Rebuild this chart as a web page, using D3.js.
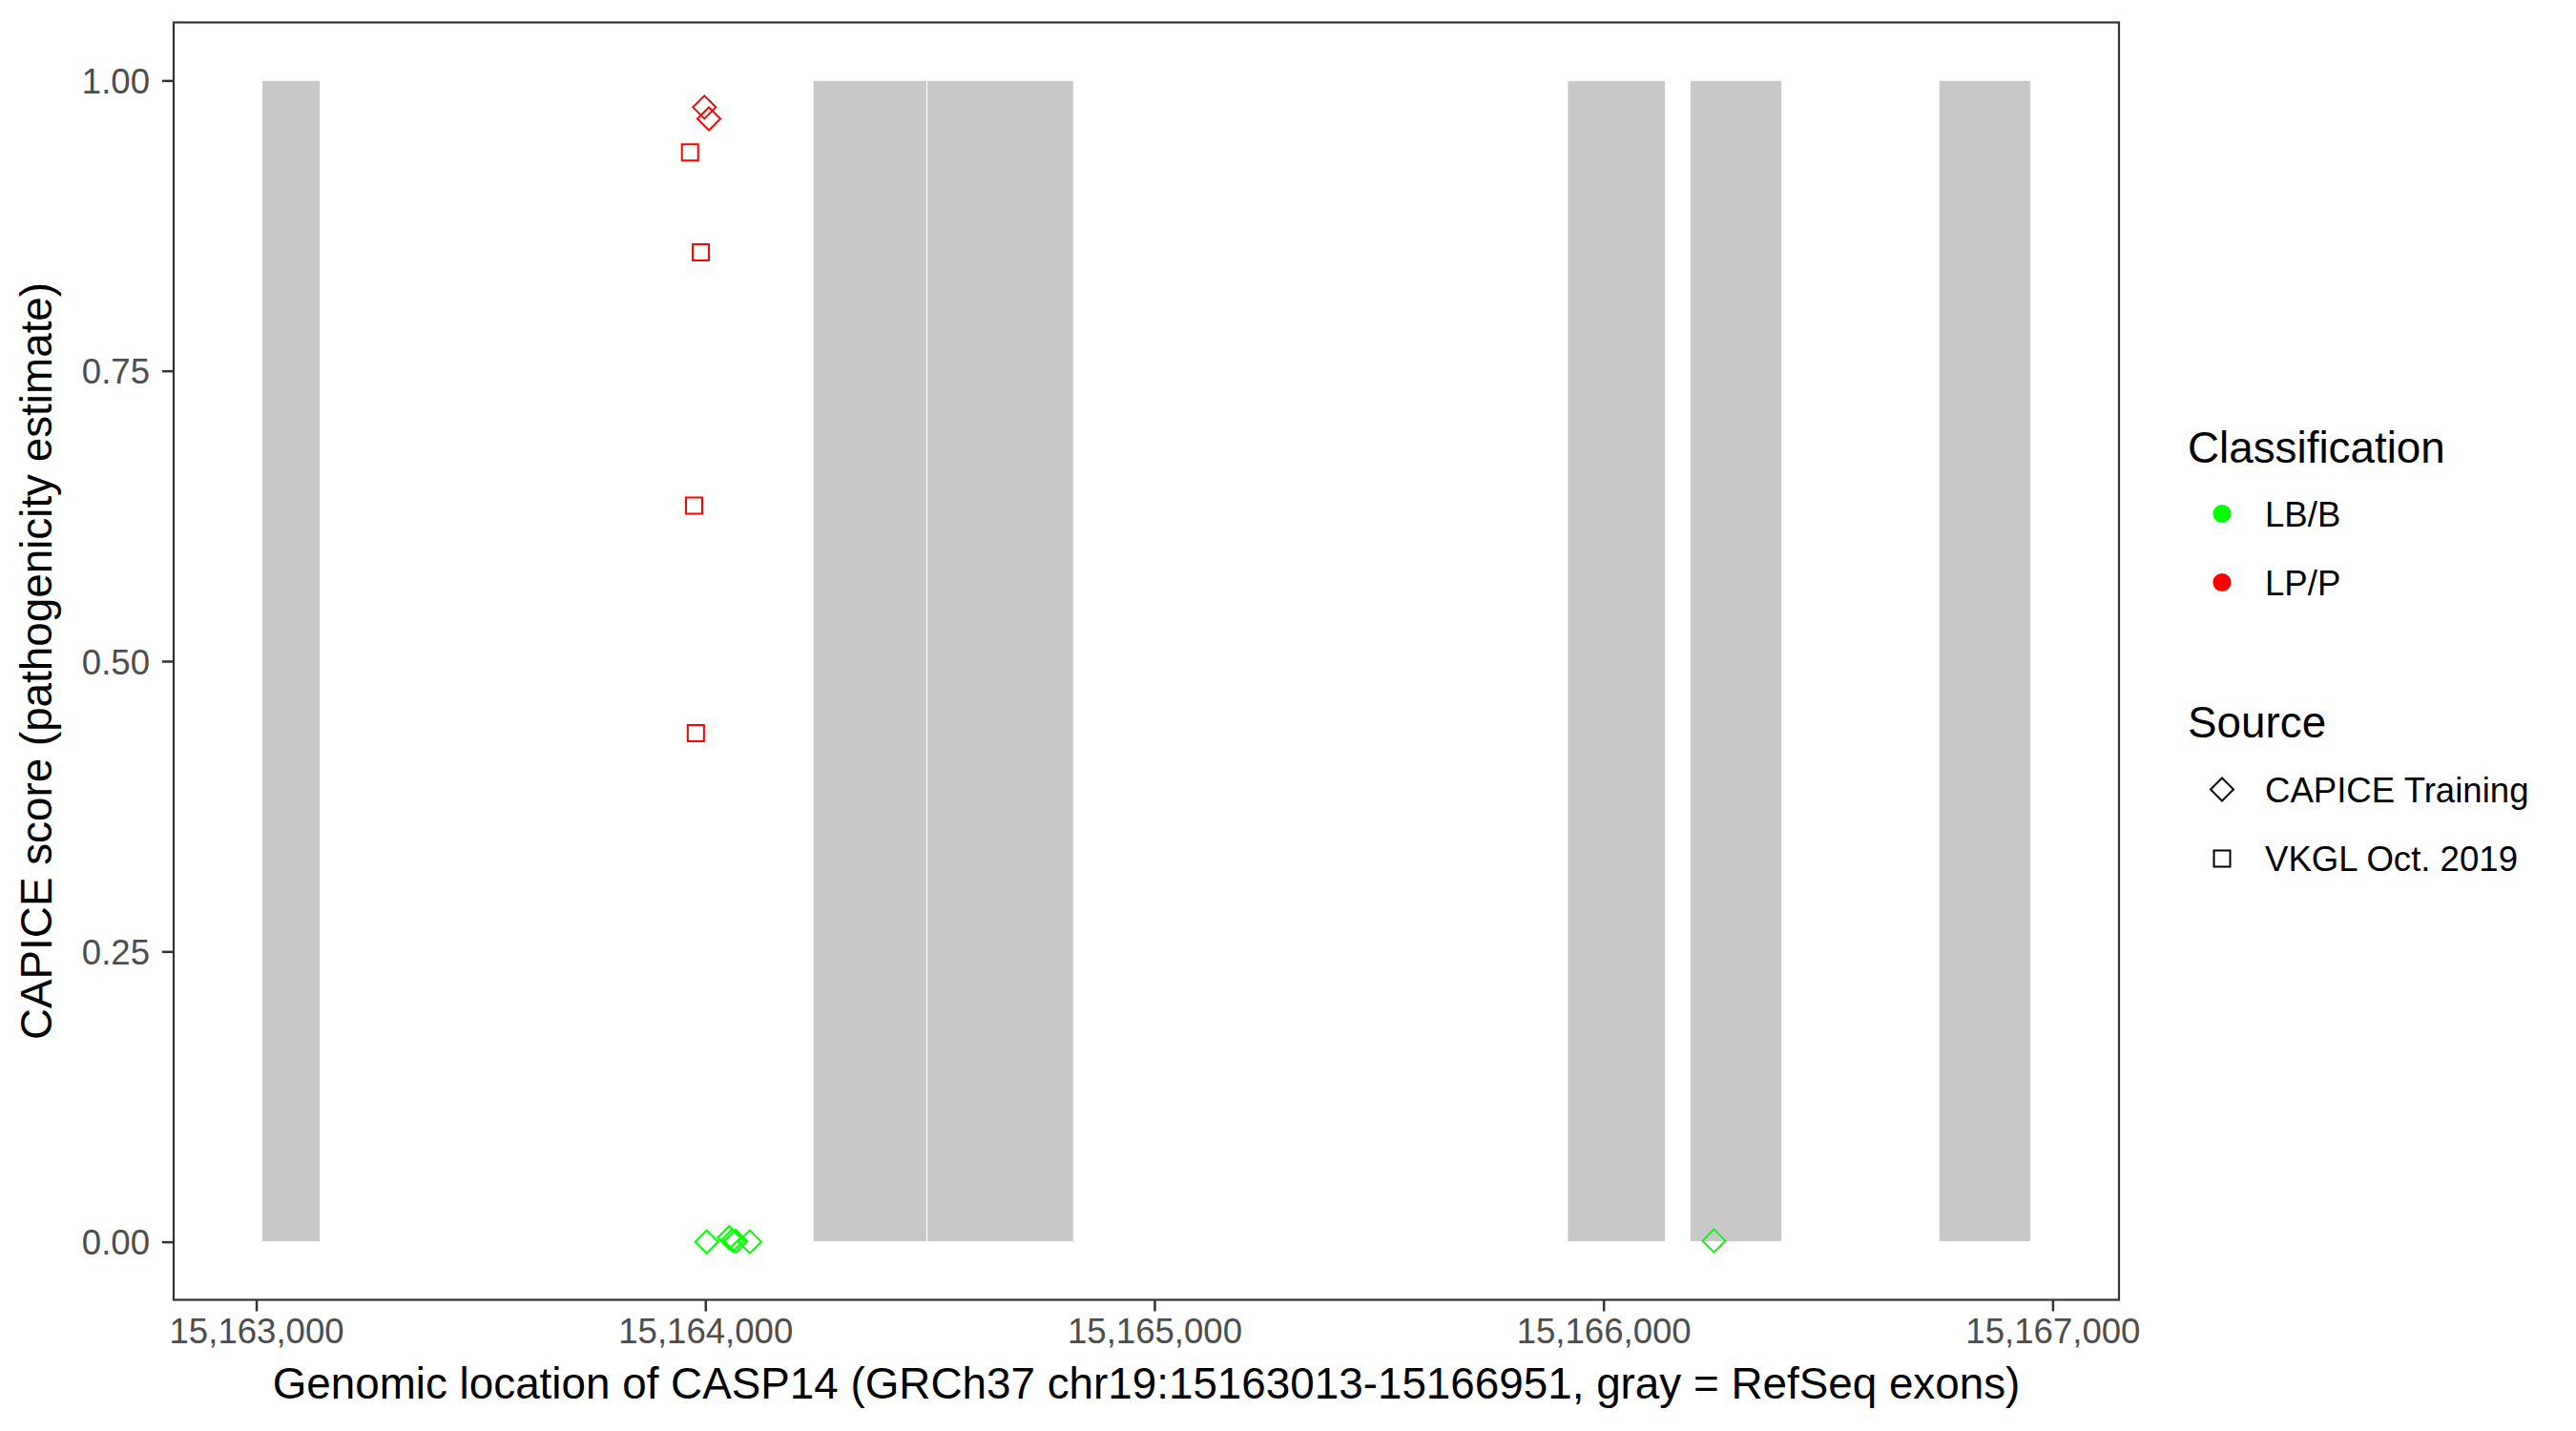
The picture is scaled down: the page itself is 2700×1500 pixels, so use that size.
<!DOCTYPE html>
<html>
<head>
<meta charset="utf-8">
<script src="https://cdn.jsdelivr.net/npm/d3@7"></script>
<style>
  html, body { margin: 0; padding: 0; background: #ffffff; }
  svg { display: block; font-family: "Liberation Sans", Arial, Helvetica, sans-serif; }
</style>
</head>
<body>
<svg id="chart" width="2700" height="1500"></svg>
<script>
// ---------------- data ----------------
const exonStart = [15163013, 15164240, 15164494, 15165920, 15166193, 15166747];
const exonEnd   = [15163142, 15164493, 15164820, 15166138, 15166397, 15166951];

const varPos    = [15163998, 15164008, 15163966, 15163990, 15163975, 15163979,
                   15164003, 15164053, 15164061, 15164068, 15164099, 15166246];
const varScore  = [0.977, 0.967, 0.938, 0.852, 0.634, 0.438,
                   0.000, 0.0036, 0.0012, 0.0005, 0.000, 0.0008];
const varClass  = ["LP/P", "LP/P", "LP/P", "LP/P", "LP/P", "LP/P",
                   "LB/B", "LB/B", "LB/B", "LB/B", "LB/B", "LB/B"];
const varSource = ["CAPICE Training", "CAPICE Training", "VKGL Oct. 2019", "VKGL Oct. 2019", "VKGL Oct. 2019", "VKGL Oct. 2019",
                   "CAPICE Training", "CAPICE Training", "CAPICE Training", "CAPICE Training", "CAPICE Training", "CAPICE Training"];

const classLevels  = ["LB/B", "LP/P"];
const classColors  = ["#00FF00", "#FF0000"];
const sourceLevels = ["CAPICE Training", "VKGL Oct. 2019"];
const xTicks = [15163000, 15164000, 15165000, 15166000, 15167000];
const yTicks = [0, 0.25, 0.5, 0.75, 1.0];

const xTitle = "Genomic location of CASP14 (GRCh37 chr19:15163013-15166951, gray = RefSeq exons)";
const yTitle = "CAPICE score (pathogenicity estimate)";

// ---------------- layout ----------------
const panel = { left: 182, right: 2221, top: 23.5, bottom: 1362.5 };
const titleSize = 45.8, labelSize = 36.6;
const svg = d3.select("#chart");

const dataMin = d3.min(exonStart), dataMax = d3.max(exonEnd);
const xPad = (dataMax - dataMin) * 0.05;
const x = d3.scaleLinear().domain([dataMin - xPad, dataMax + xPad]).range([panel.left, panel.right]);
const y = d3.scaleLinear().domain([-0.05, 1.05]).range([panel.bottom, panel.top]);
const color = d3.scaleOrdinal().domain(classLevels).range(classColors);

// panel background
svg.append("rect")
  .attr("x", panel.left).attr("y", panel.top)
  .attr("width", panel.right - panel.left).attr("height", panel.bottom - panel.top)
  .attr("fill", "#ffffff");

// exons
svg.append("g").selectAll("rect")
  .data(exonStart.map((s, i) => ({ s, e: exonEnd[i] })))
  .join("rect")
  .attr("x", d => x(d.s))
  .attr("width", d => x(d.e) - x(d.s))
  .attr("y", y(1))
  .attr("height", y(0) - y(1))
  .attr("fill", "#C8C8C8")
  .attr("stroke", "#ffffff")
  .attr("stroke-width", 0.8);

// symbols
const diamondPath = (r) => `M0,${-r}L${r},0L0,${r}L${-r},0Z`;
const squarePath = (h) => `M${-h},${-h}H${h}V${h}H${-h}Z`;
const shapePath = (src) => src === "CAPICE Training" ? diamondPath(12) : squarePath(8.5);

const pts = varPos.map((p, i) => ({ p, s: varScore[i], c: varClass[i], src: varSource[i] }));
svg.append("g").selectAll("path")
  .data(pts)
  .join("path")
  .attr("transform", d => `translate(${x(d.p)},${y(d.s)})`)
  .attr("d", d => shapePath(d.src))
  .attr("fill", "none")
  .attr("stroke", d => color(d.c))
  .attr("stroke-width", 2);

// panel border
svg.append("rect")
  .attr("x", panel.left).attr("y", panel.top)
  .attr("width", panel.right - panel.left).attr("height", panel.bottom - panel.top)
  .attr("fill", "none")
  .attr("stroke", "#333333")
  .attr("stroke-width", 2.2);

// axes
const xAxis = d3.axisBottom(x).tickValues(xTicks).tickFormat(d3.format(",")).tickSize(12).tickPadding(7);
const gx = svg.append("g").attr("transform", `translate(0,${panel.bottom})`).call(xAxis);
gx.select(".domain").remove();
gx.selectAll(".tick line").attr("stroke", "#333333").attr("stroke-width", 2.5);
gx.selectAll(".tick text").attr("fill", "#4D4D4D").attr("font-size", labelSize)
  .attr("font-family", "Liberation Sans, Arial, sans-serif").attr("dy", "0.72em");

const yAxis = d3.axisLeft(y).tickValues(yTicks).tickFormat(d3.format(".2f")).tickSize(12).tickPadding(13);
const gy = svg.append("g").attr("transform", `translate(${panel.left},0)`).call(yAxis);
gy.select(".domain").remove();
gy.selectAll(".tick line").attr("stroke", "#333333").attr("stroke-width", 2.5);
gy.selectAll(".tick text").attr("fill", "#4D4D4D").attr("font-size", labelSize)
  .attr("font-family", "Liberation Sans, Arial, sans-serif").attr("dy", "0.36em");

// axis titles
svg.append("text")
  .attr("x", (panel.left + panel.right) / 2).attr("y", 1466)
  .attr("text-anchor", "middle").attr("font-size", titleSize).attr("fill", "#000000")
  .text(xTitle);
svg.append("text")
  .attr("transform", `translate(54,${(panel.top + panel.bottom) / 2}) rotate(-90)`)
  .attr("text-anchor", "middle").attr("font-size", titleSize).attr("fill", "#000000")
  .text(yTitle);

// legends
const lg = svg.append("g");
lg.append("text").attr("x", 2293).attr("y", 485).attr("font-size", titleSize).text("Classification");
classLevels.forEach((c, i) => {
  const cy = 538.5 + i * 72;
  lg.append("circle").attr("cx", 2329).attr("cy", cy).attr("r", 9.6).attr("fill", color(c));
  lg.append("text").attr("x", 2374).attr("y", cy + 13.3).attr("font-size", labelSize).text(c);
});
lg.append("text").attr("x", 2293).attr("y", 773).attr("font-size", titleSize).text("Source");
sourceLevels.forEach((s, i) => {
  const cy = 827.5 + i * 72.5;
  lg.append("path").attr("transform", `translate(2329,${cy})`).attr("d", shapePath(s))
    .attr("fill", "none").attr("stroke", "#000000").attr("stroke-width", 2);
  lg.append("text").attr("x", 2374).attr("y", cy + 13.3).attr("font-size", labelSize).text(s);
});
</script>
</body>
</html>
